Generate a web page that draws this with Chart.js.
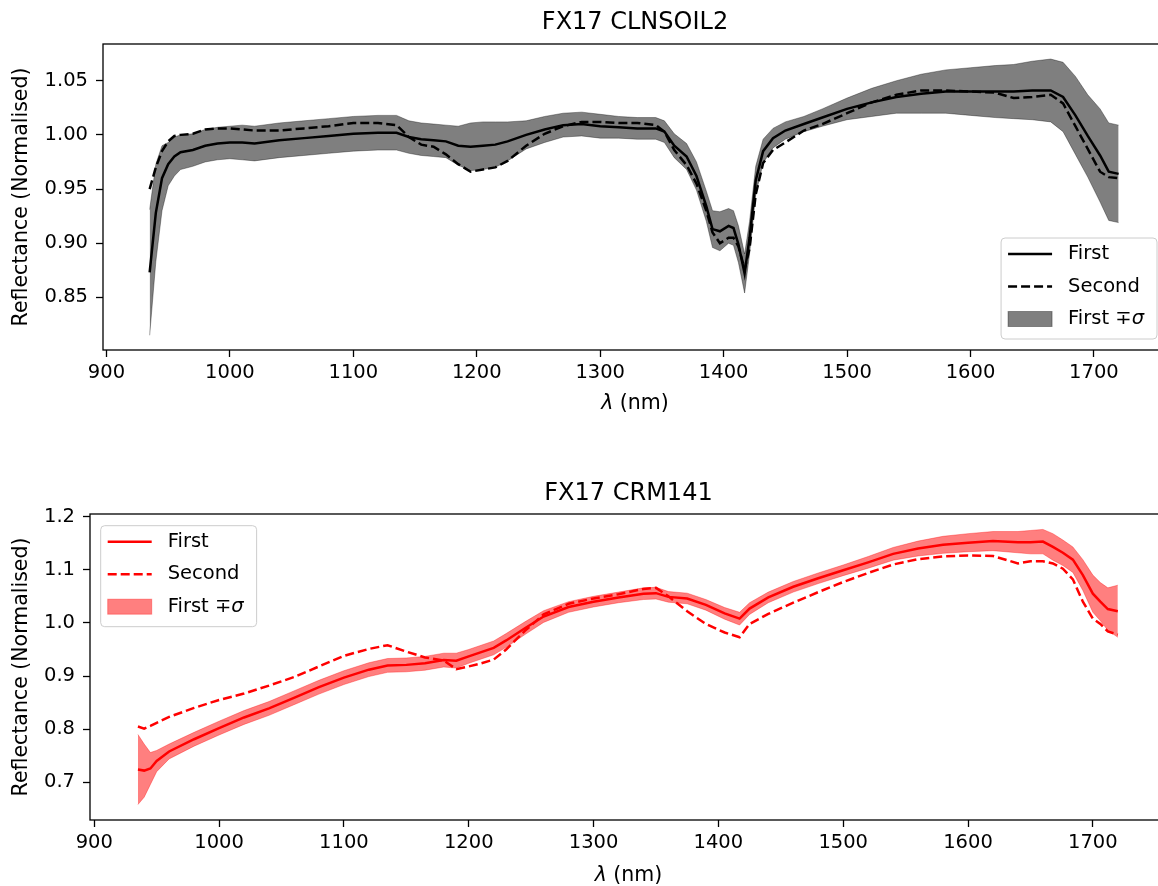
<!DOCTYPE html>
<html>
<head>
<meta charset="utf-8">
<title>FX17 spectra</title>
<script src="https://cdn.jsdelivr.net/npm/chart.js@4.4.1/dist/chart.umd.min.js"></script>
<style>
  html, body { margin: 0; padding: 0; background: #fff; overflow: hidden; width: 1158px; height: 886px; }
  .panel { position: absolute; left: 0; width: 1168px; height: 440px; }
  #panelTop { top: 0; }
  #panelBottom { top: 470px; }
</style>
</head>
<body>
<div class="panel" id="panelTop"><canvas id="chartTop" width="1168" height="440"></canvas></div>
<div class="panel" id="panelBottom"><canvas id="chartBottom" width="1168" height="440"></canvas></div>
<script>
// FX17 CLNSOIL2 - wavelengths (nm) and values
const wlTop = [935, 940, 945, 950, 955, 960, 970, 980, 990, 1000,
    1010, 1020, 1040, 1060, 1080, 1100, 1120, 1135, 1145, 1155,
    1165, 1175, 1185, 1195, 1205, 1215, 1225, 1240, 1255, 1270,
    1285, 1300, 1315, 1330, 1345, 1352, 1360, 1370, 1378, 1386,
    1391, 1397, 1404, 1408, 1412, 1417, 1421, 1426, 1432, 1440,
    1450, 1465, 1480, 1500, 1520, 1540, 1560, 1580, 1600, 1620,
    1635, 1650, 1665, 1675, 1685, 1695, 1705, 1712, 1720];
const firstTop = [0.873, 0.928, 0.960, 0.973, 0.980, 0.984, 0.986, 0.990, 0.992, 0.993,
    0.993, 0.992, 0.995, 0.997, 0.999, 1.001, 1.002, 1.002, 0.998, 0.996,
    0.995, 0.994, 0.990, 0.989, 0.990, 0.991, 0.994, 1.000, 1.005, 1.009,
    1.010, 1.008, 1.007, 1.006, 1.006, 1.003, 0.990, 0.980, 0.962, 0.934,
    0.913, 0.911, 0.916, 0.914, 0.899, 0.872, 0.905, 0.958, 0.985, 0.997,
    1.004, 1.010, 1.016, 1.024, 1.030, 1.035, 1.038, 1.040, 1.040, 1.040,
    1.040, 1.041, 1.041, 1.035, 1.018, 0.999, 0.981, 0.966, 0.964];
const secondTop = [0.950, 0.970, 0.985, 0.994, 0.999, 1.000, 1.001, 1.005, 1.006, 1.006,
    1.005, 1.004, 1.004, 1.006, 1.008, 1.011, 1.011, 1.009, 0.998, 0.991,
    0.989, 0.982, 0.973, 0.966, 0.968, 0.970, 0.976, 0.990, 1.001, 1.008,
    1.012, 1.012, 1.011, 1.011, 1.009, 1.003, 0.986, 0.972, 0.955, 0.930,
    0.910, 0.900, 0.905, 0.905, 0.897, 0.876, 0.895, 0.945, 0.974, 0.986,
    0.993, 1.004, 1.010, 1.020, 1.030, 1.037, 1.041, 1.041, 1.040, 1.039,
    1.034, 1.035, 1.037, 1.029, 1.008, 0.987, 0.966, 0.961, 0.960];
const sigmaTop = [0.058, 0.045, 0.030, 0.020, 0.018, 0.016, 0.015, 0.015, 0.015, 0.015,
    0.016, 0.016, 0.016, 0.016, 0.016, 0.016, 0.016, 0.016, 0.015, 0.015,
    0.015, 0.015, 0.018, 0.022, 0.022, 0.021, 0.018, 0.013, 0.012, 0.011,
    0.011, 0.011, 0.010, 0.010, 0.010, 0.010, 0.011, 0.012, 0.013, 0.014,
    0.017, 0.018, 0.016, 0.016, 0.017, 0.018, 0.015, 0.013, 0.011, 0.009,
    0.008, 0.007, 0.008, 0.010, 0.013, 0.015, 0.018, 0.020, 0.022, 0.024,
    0.025, 0.027, 0.029, 0.032, 0.036, 0.038, 0.043, 0.045, 0.045];

// FX17 CRM141
const wlBottom = [935, 940, 945, 950, 960, 980, 1000, 1020, 1040, 1060,
    1080, 1100, 1120, 1135, 1150, 1165, 1180, 1190, 1200, 1210,
    1220, 1230, 1245, 1260, 1280, 1300, 1320, 1340, 1350, 1360,
    1375, 1390, 1405, 1417, 1425, 1440, 1460, 1480, 1500, 1520,
    1540, 1560, 1580, 1600, 1620, 1640, 1650, 1660, 1668, 1676,
    1684, 1692, 1700, 1706, 1712, 1720];
const firstBottom = [0.724, 0.722, 0.726, 0.740, 0.758, 0.781, 0.802, 0.822, 0.839, 0.859,
    0.879, 0.897, 0.912, 0.920, 0.921, 0.924, 0.930, 0.929, 0.937, 0.945,
    0.953, 0.967, 0.990, 1.012, 1.030, 1.040, 1.048, 1.055, 1.056, 1.049,
    1.046, 1.034, 1.018, 1.008, 1.027, 1.048, 1.068, 1.084, 1.099, 1.114,
    1.130, 1.140, 1.147, 1.151, 1.154, 1.152, 1.152, 1.153, 1.143, 1.132,
    1.119, 1.090, 1.055, 1.040, 1.026, 1.022];
const secondBottom = [0.805, 0.801, 0.806, 0.812, 0.823, 0.840, 0.855, 0.867, 0.882, 0.898,
    0.918, 0.938, 0.951, 0.958, 0.946, 0.935, 0.929, 0.913, 0.918, 0.924,
    0.931, 0.950, 0.985, 1.016, 1.036, 1.046, 1.054, 1.064, 1.066, 1.050,
    1.022, 0.998, 0.982, 0.973, 0.998, 1.017, 1.038, 1.058, 1.077, 1.094,
    1.110, 1.120, 1.125, 1.127, 1.126, 1.112, 1.116, 1.116, 1.112, 1.102,
    1.082, 1.040, 1.008, 0.998, 0.984, 0.978];
const sigmaBottom = [0.066, 0.050, 0.030, 0.020, 0.014, 0.013, 0.013, 0.013, 0.013, 0.013,
    0.013, 0.013, 0.013, 0.013, 0.013, 0.013, 0.013, 0.014, 0.013, 0.013,
    0.013, 0.013, 0.012, 0.011, 0.010, 0.010, 0.010, 0.011, 0.011, 0.010,
    0.010, 0.010, 0.011, 0.012, 0.011, 0.010, 0.010, 0.010, 0.010, 0.011,
    0.012, 0.014, 0.016, 0.017, 0.018, 0.020, 0.022, 0.023, 0.025, 0.024,
    0.024, 0.029, 0.035, 0.036, 0.040, 0.049];

// tick labels
const xTicks = [900, 1000, 1100, 1200, 1300, 1400, 1500, 1600, 1700];
const yTicksTop = [0.85, 0.90, 0.95, 1.00, 1.05];
const yTicksBottom = [0.7, 0.8, 0.9, 1.0, 1.1, 1.2];

// global Chart.js settings
Chart.defaults.font.family = "'DejaVu Sans', sans-serif";
Chart.defaults.color = '#000';

const FONT = "'DejaVu Sans', sans-serif";

function points(xs, ys) {
    return xs.map((x, i) => ({ x: x, y: ys[i] }));
}

function shifted(ys, s, sign) {
    return ys.map((v, i) => v + sign * s[i]);
}

// box around the plot area
const plotFrame = {
    id: 'plotFrame',
    afterDraw(chart) {
        const a = chart.chartArea;
        const ctx = chart.ctx;
        ctx.save();
        ctx.strokeStyle = '#000';
        ctx.lineWidth = 1.3;
        ctx.strokeRect(a.left, a.top, a.right - a.left, a.bottom - a.top);
        ctx.restore();
    }
};

// title and x label (italic lambda)
const plotText = {
    id: 'plotText',
    afterDraw(chart, args, o) {
        const a = chart.chartArea;
        const ctx = chart.ctx;
        const cx = (a.left + a.right) / 2;
        ctx.save();
        ctx.fillStyle = '#000';
        ctx.textBaseline = 'middle';
        ctx.textAlign = 'center';
        ctx.font = '24px ' + FONT;
        ctx.fillText(o.title, cx, a.top - o.titleGap);

        const fItalic = 'italic 20.5px ' + FONT;
        const fNormal = '20.5px ' + FONT;
        ctx.font = fItalic;
        const w1 = ctx.measureText('λ').width;
        ctx.font = fNormal;
        const w2 = ctx.measureText(' (nm)').width;
        const x = cx - (w1 + w2) / 2;
        const y = a.bottom + o.xLabelGap;
        ctx.textAlign = 'left';
        ctx.font = fItalic;
        ctx.fillText('λ', x, y);
        ctx.font = fNormal;
        ctx.fillText(' (nm)', x + w1, y);
        ctx.restore();
    }
};

// legend inside the axes, matplotlib style
const boxLegend = {
    id: 'boxLegend',
    afterDraw(chart, args, o) {
        const a = chart.chartArea;
        const ctx = chart.ctx;
        const fNormal = '19.5px ' + FONT;
        const fItalic = 'italic 19.5px ' + FONT;
        ctx.save();
        ctx.font = fNormal;
        const wFirst = ctx.measureText('First ∓').width;
        ctx.font = fItalic;
        const wSigma = ctx.measureText('σ').width;
        ctx.font = fNormal;
        const textW = Math.max(ctx.measureText('Second').width, wFirst + wSigma);
        const w = 67 + textW + 13;
        const h = 101;
        const x0 = o.corner === 'lowerRight' ? a.right - 10 - w : a.left + 10.7;
        const y0 = o.corner === 'lowerRight' ? a.bottom - 11 - h : a.top + 11.7;

        ctx.beginPath();
        ctx.roundRect(x0, y0, w, h, 4);
        ctx.fillStyle = 'rgba(255,255,255,0.8)';
        ctx.fill();
        ctx.strokeStyle = '#cccccc';
        ctx.lineWidth = 1;
        ctx.stroke();

        const rows = [y0 + 16, y0 + 48.5, y0 + 81];
        ctx.strokeStyle = o.color;
        ctx.lineWidth = 2.5;
        ctx.beginPath();
        ctx.moveTo(x0 + 7, rows[0]);
        ctx.lineTo(x0 + 51, rows[0]);
        ctx.stroke();
        ctx.setLineDash([9, 4]);
        ctx.beginPath();
        ctx.moveTo(x0 + 7, rows[1]);
        ctx.lineTo(x0 + 51, rows[1]);
        ctx.stroke();
        ctx.setLineDash([]);
        ctx.fillStyle = o.band;
        ctx.fillRect(x0 + 7, rows[2] - 7.5, 44, 15);
        ctx.strokeStyle = o.bandEdge;
        ctx.lineWidth = 1;
        ctx.strokeRect(x0 + 7, rows[2] - 7.5, 44, 15);

        ctx.fillStyle = '#000';
        ctx.textBaseline = 'middle';
        ctx.textAlign = 'left';
        const tx = x0 + 67;
        ctx.fillText('First', tx, rows[0]);
        ctx.fillText('Second', tx, rows[1]);
        ctx.fillText('First ∓', tx, rows[2]);
        ctx.font = fItalic;
        ctx.fillText('σ', tx + wFirst, rows[2]);
        ctx.restore();
    }
};

function axisStyle() {
    return {
        grid: { display: true, drawOnChartArea: false, drawTicks: true, tickLength: 7, tickWidth: 1.3, tickColor: '#000', color: '#000' },
        border: { display: false }
    };
}

function makeChart(canvasId, o) {
    const ctx = document.getElementById(canvasId).getContext('2d');
    return new Chart(ctx, {
        type: 'line',
        data: {
            datasets: [{
                label: 'First +σ',
                data: points(o.wl, shifted(o.first, o.sigma, 1)),
                borderColor: o.bandEdge,
                backgroundColor: o.band,
                borderWidth: 1,
                fill: '+1',
                pointRadius: 0,
                order: 3
            }, {
                label: 'First -σ',
                data: points(o.wl, shifted(o.first, o.sigma, -1)),
                borderColor: o.bandEdge,
                borderWidth: 1,
                fill: false,
                pointRadius: 0,
                order: 3
            }, {
                label: 'Second',
                data: points(o.wl, o.second),
                borderColor: o.color,
                borderWidth: 2.5,
                borderDash: [9, 4],
                fill: false,
                pointRadius: 0,
                order: 2
            }, {
                label: 'First',
                data: points(o.wl, o.first),
                borderColor: o.color,
                borderWidth: 2.5,
                fill: false,
                pointRadius: 0,
                order: 1
            }]
        },
        options: {
            responsive: false,
            animation: false,
            layout: { padding: { top: 44, right: 1, bottom: 0, left: 0 } },
            scales: {
                x: Object.assign(axisStyle(), {
                    type: 'linear',
                    min: o.xMin,
                    max: o.xMax,
                    afterBuildTicks: (s) => { s.ticks = xTicks.map(v => ({ value: v })); },
                    afterFit: (s) => { s.height = 90; },
                    ticks: {
                        callback: (v) => String(v),
                        font: { size: 19.5 },
                        color: '#000',
                        padding: 4,
                        maxRotation: 0,
                        autoSkip: false
                    }
                }),
                y: Object.assign(axisStyle(), {
                    type: 'linear',
                    min: o.yMin,
                    max: o.yMax,
                    afterBuildTicks: (s) => { s.ticks = o.yTicks.map(v => ({ value: v })); },
                    afterFit: (s) => { s.width = o.yAxisWidth; },
                    ticks: {
                        callback: (v) => v.toFixed(o.decimals),
                        font: { size: 19.5 },
                        color: '#000',
                        padding: 8,
                        autoSkip: false
                    },
                    title: {
                        display: true,
                        text: 'Reflectance (Normalised)',
                        font: { size: 20.5 },
                        color: '#000',
                        padding: { top: 9, bottom: 0 }
                    }
                })
            },
            plugins: {
                legend: { display: false },
                tooltip: { enabled: false },
                plotText: { title: o.title, titleGap: o.titleGap, xLabelGap: o.xLabelGap },
                boxLegend: { corner: o.legendCorner, color: o.color, band: o.band, bandEdge: o.bandEdge }
            }
        },
        plugins: [plotFrame, plotText, boxLegend]
    });
}

// top panel
makeChart('chartTop', {
    wl: wlTop, first: firstTop, second: secondTop, sigma: sigmaTop,
    color: '#000000', band: 'rgba(0,0,0,0.5)', bandEdge: 'rgba(0,0,0,0.35)',
    xMin: 897.2, xMax: 1759.2, yMin: 0.8014, yMax: 1.0839,
    yTicks: yTicksTop, decimals: 2, yAxisWidth: 103,
    title: 'FX17 CLNSOIL2', titleGap: 21.5, xLabelGap: 54,
    legendCorner: 'lowerRight'
});

// bottom panel
makeChart('chartBottom', {
    wl: wlBottom, first: firstBottom, second: secondBottom, sigma: sigmaBottom,
    color: '#ff0000', band: 'rgba(255,0,0,0.5)', bandEdge: 'rgba(255,0,0,0.35)',
    xMin: 896.6, xMax: 1759.4, yMin: 0.629, yMax: 1.205,
    yTicks: yTicksBottom, decimals: 1, yAxisWidth: 90,
    title: 'FX17 CRM141', titleGap: 20.5, xLabelGap: 56,
    legendCorner: 'upperLeft'
});
</script>
</body>
</html>
